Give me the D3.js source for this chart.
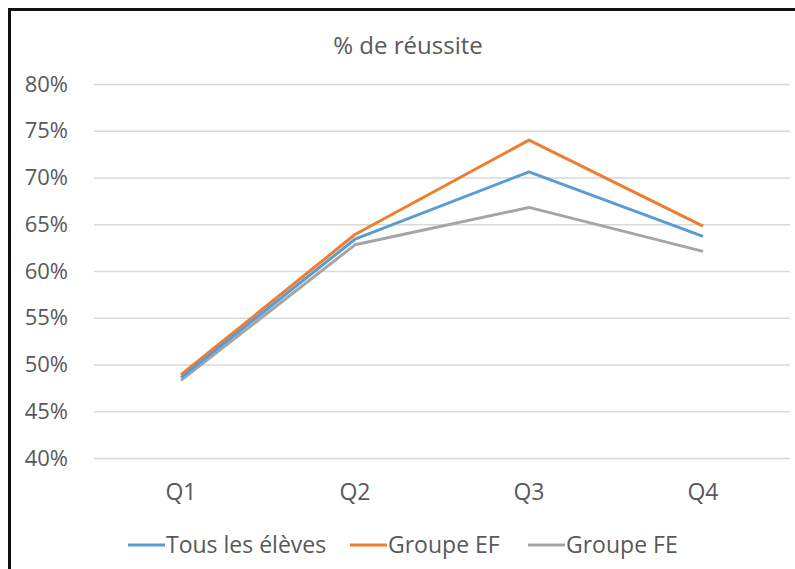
<!DOCTYPE html>
<html>
<head>
<meta charset="utf-8">
<script src="https://cdn.jsdelivr.net/npm/d3@7"></script>
<style>
  body { margin: 0; background: #fff; }
  svg { display: block; font-family: "Open Sans", sans-serif; }
</style>
</head>
<body>
<svg width="795" height="569"></svg>
<script>
const quarters = ["Q1", "Q2", "Q3", "Q4"];
const tousLesEleves = [48.6, 63.4, 70.6, 63.7];
const groupeEF = [48.9, 63.9, 74.0, 64.8];
const groupeFE = [48.3, 62.8, 66.8, 62.1];
const yTicks = [40, 45, 50, 55, 60, 65, 70, 75, 80];

const series = [
    { name: "Tous les élèves", values: tousLesEleves, color: "#5B9BD5" },
    { name: "Groupe EF", values: groupeEF, color: "#ED7D31" },
    { name: "Groupe FE", values: groupeFE, color: "#A5A5A5" }
];

let svg = d3.select("svg");

// frame (only left and top visible in the crop)
svg.append("path")
    .attr("d", "M9.5,569 V9.5 H795")
    .attr("fill", "none")
    .attr("stroke", "#111")
    .attr("stroke-width", 3);

let area = { left: 94, right: 790, top: 84, bottom: 458 };

let scX = d3.scaleBand()
    .domain(quarters)
    .range([area.left, area.right]);

let scY = d3.scaleLinear()
    .domain([40, 80])
    .range([area.bottom, area.top]);

// title
svg.append("text")
    .attr("x", 408)
    .attr("y", 54)
    .attr("text-anchor", "middle")
    .attr("font-size", 24)
    .attr("fill", "#595959")
    .text("% de réussite");

// y axis with gridlines
let axisY = d3.axisLeft(scY)
    .tickValues(yTicks)
    .tickSize(-(area.right - area.left))
    .tickPadding(26)
    .tickFormat(d => d + "%");

let gY = svg.append("g")
    .attr("transform", `translate(${area.left}, 0)`)
    .call(axisY);
gY.select(".domain").remove();
gY.selectAll("line").attr("stroke", "#D9D9D9").attr("stroke-width", 1.3);
gY.selectAll("text")
    .attr("font-size", 22)
    .attr("fill", "#595959")
    .attr("font-family", "'Open Sans', sans-serif");

// x axis labels
let axisX = d3.axisBottom(scX).tickSize(0).tickPadding(26);
let gX = svg.append("g")
    .attr("transform", `translate(0, ${area.bottom})`)
    .call(axisX);
gX.select(".domain").remove();
gX.selectAll("text")
    .attr("font-size", 23)
    .attr("fill", "#595959")
    .attr("font-family", "'Open Sans', sans-serif");

// lines
const line = d3.line()
    .x((d, i) => scX(quarters[i]) + scX.bandwidth() / 2)
    .y(d => scY(d));

// draw in order FE, EF, Tous so the blue sits on top like the original
[series[2], series[1], series[0]].forEach(s => {
    svg.append("path")
        .datum(s.values)
        .attr("fill", "none")
        .attr("stroke", s.color)
        .attr("stroke-width", 3)
        .attr("stroke-linejoin", "round")
        .attr("d", line);
});

// legend
const legendX = [128, 350, 528];
let legend = svg.append("g");
series.forEach((s, i) => {
    let g = legend.append("g").attr("transform", `translate(${legendX[i]}, 545)`);
    g.append("line")
        .attr("x1", 0).attr("x2", 37)
        .attr("y1", 0).attr("y2", 0)
        .attr("stroke", s.color)
        .attr("stroke-width", 3);
    g.append("text")
        .attr("x", 38)
        .attr("y", 8)
        .attr("font-size", 23)
        .attr("fill", "#595959")
        .text(s.name);
});
</script>
</body>
</html>
